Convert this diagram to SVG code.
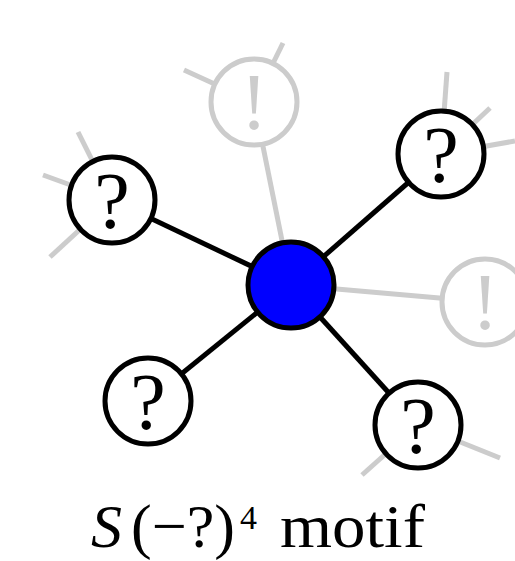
<svg xmlns="http://www.w3.org/2000/svg" width="515" height="561" viewBox="0 0 515 561">
  <style>
    .edge { stroke: #000; stroke-width: 5; stroke-linecap: butt; }
    .faint { stroke: #cccccc; stroke-width: 5; stroke-linecap: butt; }
    .node { fill: #fff; stroke: #000; stroke-width: 5; }
    .ghost { fill: #fff; stroke: #cccccc; stroke-width: 5; }
    .hub { fill: #0000ff; stroke: #000; stroke-width: 5; }
    .glyph { font-family: "Liberation Serif", "DejaVu Serif", serif; font-size: 80px; text-anchor: middle; fill: #000; }
    .glyph-faint { font-family: "Liberation Serif", "DejaVu Serif", serif; font-size: 80px; text-anchor: middle; fill: #cccccc; }
    .caption { font-family: "Liberation Serif", "DejaVu Serif", serif; fill: #000; }
  </style>

  <!-- connectors: spokes from the hub and stub edges of the neighbours -->
  <g id="connectors">
    <line class="faint" x1="254" y1="102" x2="184" y2="70"/>
    <line class="faint" x1="254" y1="102" x2="283" y2="43"/>
    <line class="faint" x1="441" y1="154" x2="447" y2="72"/>
    <line class="faint" x1="441" y1="154" x2="490" y2="108"/>
    <line class="faint" x1="441" y1="154" x2="515" y2="141"/>
    <line class="faint" x1="112" y1="200" x2="78" y2="132"/>
    <line class="faint" x1="112" y1="200" x2="43" y2="175"/>
    <line class="faint" x1="112" y1="200" x2="50" y2="257"/>
    <line class="faint" x1="418" y1="425" x2="362" y2="475"/>
    <line class="faint" x1="418" y1="425" x2="500" y2="458"/>
    <line class="faint" x1="291" y1="285" x2="254" y2="102"/>
    <line class="faint" x1="291" y1="285" x2="485" y2="302"/>
    <line class="edge" x1="291" y1="285" x2="112" y2="200"/>
    <line class="edge" x1="291" y1="285" x2="441" y2="154"/>
    <line class="edge" x1="291" y1="285" x2="148" y2="401"/>
    <line class="edge" x1="291" y1="285" x2="418" y2="425"/>
  </g>

  <g id="n-top">
    <circle class="ghost" cx="254" cy="102" r="43"/>
    <text class="glyph-faint" x="254" y="129">!</text>
  </g>
  <g id="n-right">
    <circle class="ghost" cx="485" cy="302" r="43"/>
    <text class="glyph-faint" x="485" y="329">!</text>
  </g>
  <g id="n-upper-right">
    <circle class="node" cx="441" cy="154" r="43"/>
    <text class="glyph" x="441" y="182">?</text>
  </g>
  <g id="n-left">
    <circle class="node" cx="112" cy="200" r="43"/>
    <text class="glyph" x="112" y="228">?</text>
  </g>
  <g id="n-lower-left">
    <circle class="node" cx="148" cy="401" r="43"/>
    <text class="glyph" x="148" y="429">?</text>
  </g>
  <g id="n-lower-right">
    <circle class="node" cx="418" cy="425" r="43"/>
    <text class="glyph" x="418" y="453">?</text>
  </g>
  <g id="n-hub">
    <circle class="hub" cx="291" cy="285" r="43"/>
  </g>

  <g id="caption">
    <text class="caption" x="91" y="547" font-size="62" font-style="italic">S</text>
    <text class="caption" x="131" y="547" font-size="62" textLength="104" lengthAdjust="spacingAndGlyphs">(−?)</text>
    <text class="caption" x="240" y="529" font-size="34">4</text>
    <text class="caption" x="280" y="547" font-size="62" textLength="145" lengthAdjust="spacingAndGlyphs">motif</text>
  </g>
</svg>
